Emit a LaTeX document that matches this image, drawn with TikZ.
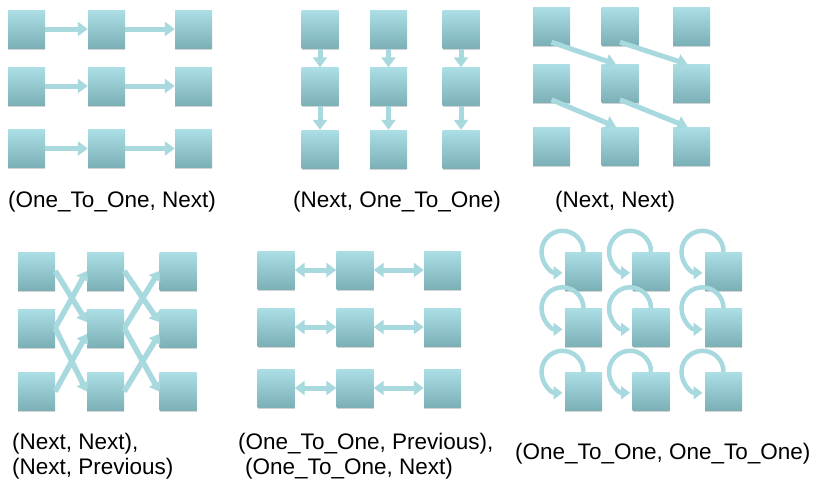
\documentclass[tikz,border=0pt]{standalone}
\usepackage{fontspec}
\setmainfont{Liberation Sans}
\usetikzlibrary{arrows.meta,shadows}
\definecolor{boxtop}{HTML}{ABDFE5}
\definecolor{boxbot}{HTML}{7CB0B7}
\definecolor{arrc}{HTML}{A8D9DF}
\begin{document}
\begin{tikzpicture}[x=1pt,y=1pt,
  bx/.style={rectangle,minimum width=37pt,minimum height=38pt,inner sep=0pt,
    top color=boxtop,bottom color=boxbot,draw=none,
    drop shadow={shadow xshift=0pt,shadow yshift=-1.8pt,opacity=0.35,fill=gray}},
  arr/.style={draw=arrc,line width=5pt,-{Triangle[width=14pt,length=10pt]}},
  darr/.style={draw=arrc,line width=5pt,{Triangle[width=14pt,length=10pt]}-{Triangle[width=14pt,length=10pt]}},
  xarr/.style={draw=arrc,line width=5.5pt,-{Triangle[width=13pt,length=9pt]}},
  larr/.style={draw=arrc,line width=4.5pt,-{Triangle[width=13pt,length=9pt]}},
  lbl/.style={inner sep=0pt,anchor=base west,align=left,font=\fontsize{22.5}{25}\selectfont}]
\useasboundingbox (0,0) rectangle (819,-483);
% Panel 1
\foreach \c/\x in {1/26.5,2/106.5,3/193.5}
  \foreach \r/\y in {1/29,2/86,3/148.5}
    \node[bx] (a\r\c) at (\x,-\y) {};
\foreach \r in {1,2,3}{
  \draw[arr] (a\r1) -- (a\r2);
  \draw[arr] (a\r2) -- (a\r3);}
% Panel 2
\foreach \c/\x in {1/320,2/388.5,3/461}
  \foreach \r/\y in {1/29.5,2/86.5,3/149}
    \node[bx] (b\r\c) at (\x,-\y) {};
\foreach \c in {1,2,3}{
  \draw[arr] (b1\c) -- (b2\c);
  \draw[arr] (b2\c) -- (b3\c);}
% Panel 3
\foreach \c/\x in {1/551.5,2/620,3/691.5}
  \foreach \r/\y in {1/26,2/83.5,3/146}
    \node[bx] (c\r\c) at (\x,-\y) {};
\draw[arr] ([yshift=3pt]c11.south) -- ([xshift=-4pt]c22.north);
\draw[arr] ([yshift=3pt]c12.south) -- ([xshift=-4pt]c23.north);
\draw[arr] ([yshift=3pt]c21.south) -- ([xshift=-4pt]c32.north);
\draw[arr] ([yshift=3pt]c22.south) -- ([xshift=-4pt]c33.north);
% Panel 4
\foreach \c/\x in {1/36.5,2/105.5,3/178}
  \foreach \r/\y in {1/271,2/328,3/391.5}
    \node[bx] (d\r\c) at (\x,-\y) {};
\foreach \a/\b in {1/2,2/3}{
  \draw[xarr] (d1\a.east) -- ([yshift=6pt]d2\b.west);
  \draw[xarr] (d3\a.east) -- ([yshift=-6pt]d2\b.west);
  \draw[xarr] (d2\a.east) -- (d1\b.west);
  \draw[xarr] (d2\a.east) -- (d3\b.west);}
% Panel 5
\foreach \c/\x in {1/276,2/355,3/442.5}
  \foreach \r/\y in {1/270,2/327,3/388}
    \node[bx] (e\r\c) at (\x,-\y) {};
\foreach \r in {1,2,3}{
  \draw[darr] (e\r1) -- (e\r2);
  \draw[darr] (e\r2) -- (e\r3);}
% Panel 6
\foreach \c/\x in {1/583.5,2/651,3/723.5}
  \foreach \r/\y in {1/271,2/327.5,3/391}
    \node[bx] (f\r\c) at (\x,-\y) {};
\foreach \r in {1,2,3}
  \foreach \c in {1,2,3}
    \draw[larr] (f\r\c.north) arc[start angle=0,end angle=270,radius=21pt];
% Labels
\node[lbl] (t1) at (8,-207) {(One\_To\_One, Next)};
\node[lbl] (t2) at (293,-207) {(Next, One\_To\_One)};
\node[lbl] (t3) at (555,-207) {(Next, Next)};
\node[lbl] (t4) at (12,-474) {(Next, Next),\\(Next, Previous)};
\node[lbl] (t5) at (238,-474) {(One\_To\_One, Previous),\\\hspace*{7pt}(One\_To\_One, Next)};
\node[lbl] (t6) at (515,-459) {(One\_To\_One, One\_To\_One)};
\end{tikzpicture}
\end{document}
